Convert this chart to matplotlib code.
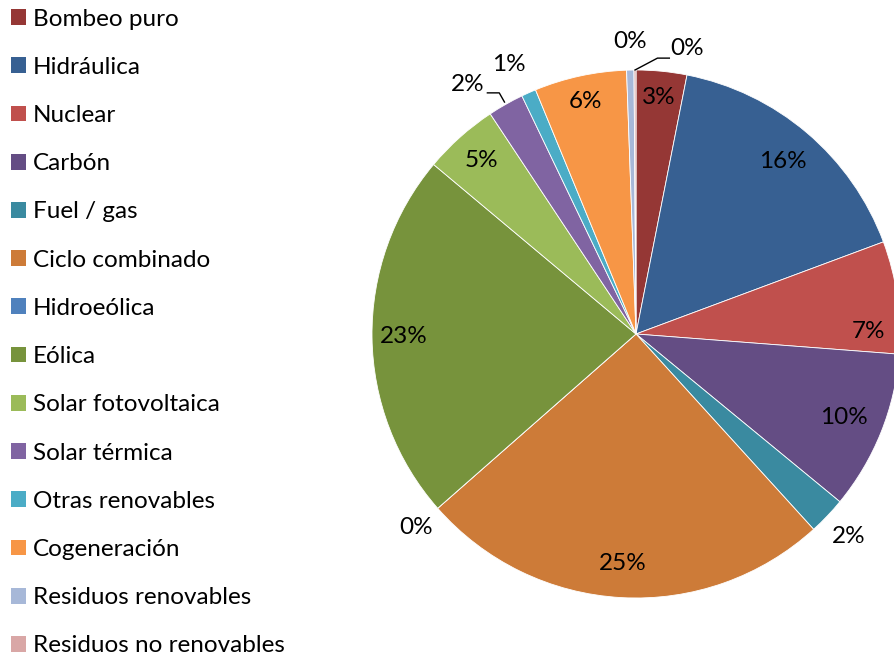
import numpy as np
import matplotlib
matplotlib.use("Agg")
import matplotlib.pyplot as plt
from matplotlib.patches import Patch

# ── Datos (porcentaje de generación por tecnología) ──────────────────────────
categorias = [
    "Bombeo puro", "Hidráulica", "Nuclear", "Carbón", "Fuel / gas",
    "Ciclo combinado", "Hidroeólica", "Eólica", "Solar fotovoltaica",
    "Solar térmica", "Otras renovables", "Cogeneración",
    "Residuos renovables", "Residuos no renovables",
]
valores = [3.1, 16.25, 6.9, 9.75, 2.3, 25.3, 0.0, 22.6, 4.6, 2.2, 0.9, 5.65, 0.45, 0.12]

colores = [
    "#953735", "#376092", "#C0504D", "#644D84", "#3A8AA0",
    "#CD7B38", "#4F81BD", "#77933C", "#9BBB59",
    "#8064A2", "#4BACC6", "#F79646",
    "#A7B8D8", "#D9A7A6",
]

# posición de etiquetas: radio (en unidades de R) y desplazamiento angular (grados, horario)
label_r  = [0.90, 0.86, 0.88, 0.85, 1.11, 0.87, 1.11, 0.88, 0.88, 1.14, 1.13, 0.90, 1.11, 1.10]
label_da = [0.0,  0.0,  7.5,  0.0,  0.0,  0.0,  0.0,  0.0,  0.0, -4.4, -1.3,  0.0,  0.0, 10.4]

FONT = "Lato"
FS = 17.5

fig = plt.figure(figsize=(8.95, 6.58), dpi=100)
W, H = 895, 658
cx, cy, R = 636, 334, 264
ax = fig.add_axes([(cx - R) / W, (H - cy - R) / H, 2 * R / W, 2 * R / H])

wedges, _ = ax.pie(
    valores, colors=colores, startangle=90, counterclock=False,
    radius=1.0, wedgeprops=dict(edgecolor="white", linewidth=0.6),
)
ax.set_xlim(-1, 1)
ax.set_ylim(-1, 1)
ax.set_aspect("equal")
ax.axis("off")

total = sum(valores)
for i, w in enumerate(wedges):
    mid = 0.5 * (w.theta1 + w.theta2) - label_da[i]
    t = np.deg2rad(mid)
    x, y = label_r[i] * np.cos(t), label_r[i] * np.sin(t)
    ax.text(x, y, f"{valores[i] / total * 100:.0f}%", ha="center", va="center",
            fontsize=FS, family=FONT, color="black", clip_on=False)

# líneas guía para las etiquetas exteriores pequeñas
def leader(i, r0, r1, dx):
    mid = np.deg2rad(0.5 * (wedges[i].theta1 + wedges[i].theta2))
    p0 = (r0 * np.cos(mid), r0 * np.sin(mid))
    p1 = (r1 * np.cos(mid) + dx[0], r1 * np.sin(mid) + dx[1])
    p2 = (p1[0] + dx[2], p1[1])
    ax.plot([p0[0], p1[0], p2[0]], [p0[1], p1[1], p2[1]], color="black",
            lw=1.0, clip_on=False)

leader(9, 1.01, 1.05, (0.0, 0.0, -0.045))
leader(13, 1.0, 1.0, (0.085, 0.045, 0.045))

handles = [Patch(facecolor=c, edgecolor="none") for c in colores]
fig.legend(handles, categorias, loc="upper left", bbox_to_anchor=(0.0123, 0.987),
           frameon=False, prop=dict(family=FONT, size=FS),
           handlelength=0.62, handleheight=0.62, handletextpad=0.29,
           labelspacing=1.12, borderaxespad=0, borderpad=0)

fig.savefig("out.png", dpi=100)
